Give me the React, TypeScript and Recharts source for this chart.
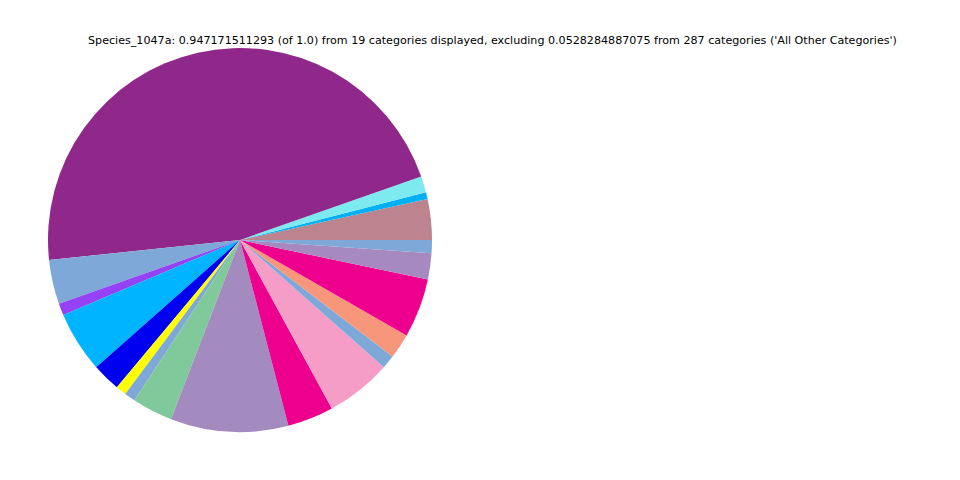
import { PieChart, Pie, Cell } from 'recharts'

// slices in drawing order, counter-clockwise from 3 o'clock
const categories = [
  'cat_01', 'cat_02', 'cat_03', 'cat_04', 'cat_05', 'cat_06', 'cat_07',
  'cat_08', 'cat_09', 'cat_10', 'cat_11', 'cat_12', 'cat_13', 'cat_14',
  'cat_15', 'cat_16', 'cat_17', 'cat_18', 'cat_19',
]

const shares = [
  0.0324, 0.0055, 0.0129, 0.4386, 0.0353, 0.0095, 0.0487,
  0.0226, 0.0084, 0.0087, 0.0324, 0.0939, 0.0368, 0.0524,
  0.0108, 0.0200, 0.0471, 0.0208, 0.0105,
]

const colors = [
  '#bc848e', '#00b0f0', '#7deaf0', '#90278a', '#7ea8d8', '#9541f5', '#00b4ff',
  '#0000f0', '#ffff00', '#7ea8d8', '#80c99b', '#a38abf', '#ee008f', '#f59dc6',
  '#7ea8d8', '#f8967b', '#ee008f', '#a68abf', '#7ea8d8',
]

const title =
  "Species_1047a: 0.947171511293 (of 1.0) from 19 categories displayed, excluding 0.0528284887075 from 287 categories ('All Other Categories')"

const data = categories.map((name, i) => ({ name, value: shares[i] }))

export default function App() {
  return (
    <div style={{ position: 'absolute', left: 0, top: 0, width: 960, height: 480, background: '#fff' }}>
      <div
        style={{
          position: 'absolute',
          left: 0,
          top: 34,
          width: 985,
          textAlign: 'center',
          fontFamily: 'DejaVu Sans',
          fontSize: 11.12,
          lineHeight: '13px',
          color: '#000',
          whiteSpace: 'nowrap',
        }}
      >
        {title}
      </div>
      <PieChart width={960} height={480} margin={{ top: 0, right: 0, bottom: 0, left: 0 }}>
        <Pie
          data={data}
          dataKey="value"
          nameKey="name"
          cx={240}
          cy={240}
          outerRadius={192}
          startAngle={0}
          endAngle={360}
          stroke="none"
          isAnimationActive={false}
        >
          {data.map((d, i) => (
            <Cell key={d.name} fill={colors[i]} />
          ))}
        </Pie>
      </PieChart>
    </div>
  )
}
